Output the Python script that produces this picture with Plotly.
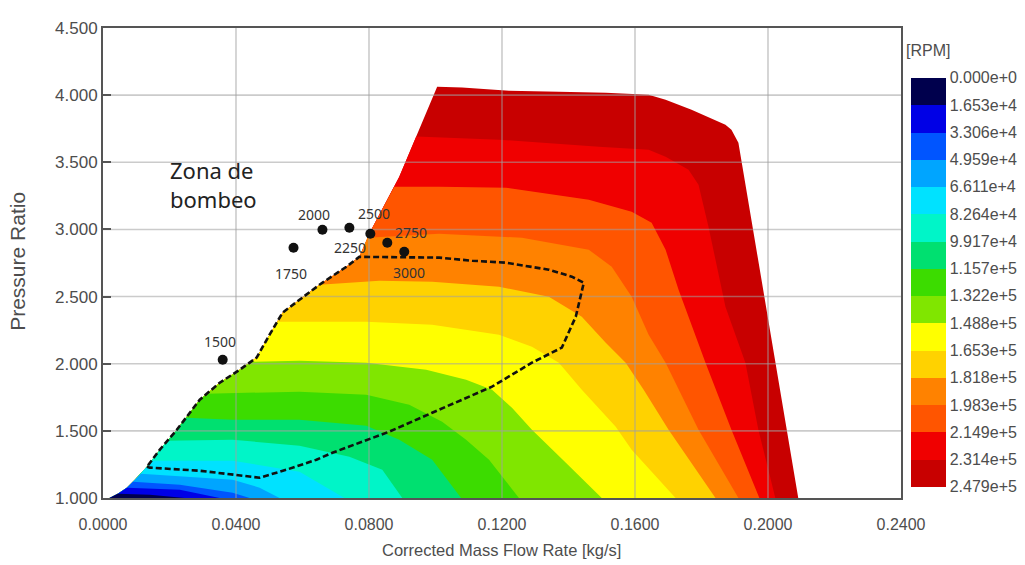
import plotly.graph_objects as go

# ---------------- data ----------------
x_ticks = [0.0, 0.04, 0.08, 0.12, 0.16, 0.20, 0.24]
y_ticks = [1.0, 1.5, 2.0, 2.5, 3.0, 3.5, 4.0, 4.5]

rpm_labels = ["0.000e+0", "1.653e+4", "3.306e+4", "4.959e+4", "6.611e+4", "8.264e+4",
              "9.917e+4", "1.157e+5", "1.322e+5", "1.488e+5", "1.653e+5", "1.818e+5",
              "1.983e+5", "2.149e+5", "2.314e+5", "2.479e+5"]
# band colours, lowest speed band first
band_colors = ["#00004d", "#0000e6", "#0055ff", "#00a5ff", "#00e2ff", "#00f5c8",
               "#00e070", "#3cdc00", "#80e600", "#ffff00", "#ffd200", "#ff8200",
               "#ff5500", "#f00000", "#c80000"]

# surge line (left edge of map), from PR=1 upward
surge_x = [0.0020, 0.0045, 0.0072, 0.0096, 0.0132, 0.0171, 0.0222, 0.0291, 0.0351, 0.0411,
           0.0462, 0.0501, 0.0540, 0.0591, 0.0651, 0.0732, 0.0771, 0.0807, 0.0891, 0.1005]
surge_y = [1.000, 1.032, 1.077, 1.136, 1.233, 1.360, 1.508, 1.732, 1.858, 1.955,
           2.045, 2.216, 2.380, 2.476, 2.588, 2.722, 2.796, 2.998, 3.392, 4.063]

# top (max speed) and choke line
top_x = [0.1080, 0.1221, 0.1371, 0.1512, 0.1641, 0.1692, 0.1770, 0.1872, 0.1890, 0.1911, 0.2091]
top_y = [4.056, 4.033, 4.026, 4.018, 4.003, 3.966, 3.892, 3.780, 3.743, 3.646, 1.000]

# iso-speed contour lines (band boundaries), from surge line to PR=1
iso_2314_x = [0.0942, 0.1191, 0.1491, 0.1641, 0.1692, 0.1761, 0.1791, 0.1821, 0.1872, 0.1932, 0.1971, 0.2022]
iso_2314_y = [3.692, 3.668, 3.616, 3.593, 3.541, 3.444, 3.333, 3.020, 2.425, 2.008, 1.509, 1.000]
iso_2149_x = [0.0876, 0.1011, 0.1212, 0.1461, 0.1590, 0.1650, 0.1692, 0.1731, 0.1812, 0.1890, 0.1974]
iso_2149_y = [3.318, 3.318, 3.311, 3.221, 3.132, 3.050, 2.849, 2.551, 2.008, 1.509, 1.000]
iso_1983_x = [0.0795, 0.1011, 0.1260, 0.1461, 0.1530, 0.1590, 0.1641, 0.1692, 0.1791, 0.1911]
iso_1983_y = [2.938, 2.968, 2.938, 2.849, 2.722, 2.499, 2.216, 2.008, 1.509, 1.000]
iso_1818_x = [0.0651, 0.0831, 0.0990, 0.1191, 0.1341, 0.1440, 0.1512, 0.1572, 0.1626, 0.1701, 0.1842]
iso_1818_y = [2.588, 2.618, 2.610, 2.573, 2.499, 2.350, 2.156, 2.008, 1.807, 1.509, 1.000]
iso_1653_x = [0.0525, 0.0792, 0.0990, 0.1191, 0.1290, 0.1371, 0.1440, 0.1542, 0.1590, 0.1722]
iso_1653_y = [2.313, 2.313, 2.291, 2.216, 2.127, 2.008, 1.807, 1.531, 1.360, 1.000]
iso_1488_x = [0.0444, 0.0591, 0.0792, 0.0972, 0.1092, 0.1170, 0.1230, 0.1290, 0.1392, 0.1500]
iso_1488_y = [2.015, 2.022, 2.008, 1.955, 1.881, 1.806, 1.672, 1.509, 1.263, 1.000]
iso_1322_x = [0.0312, 0.0591, 0.0792, 0.0921, 0.1020, 0.1092, 0.1161, 0.1251]
iso_1322_y = [1.777, 1.792, 1.769, 1.695, 1.568, 1.434, 1.285, 1.000]
iso_1157_x = [0.0249, 0.0390, 0.0591, 0.0792, 0.0891, 0.0990, 0.1077]
iso_1157_y = [1.598, 1.583, 1.583, 1.538, 1.434, 1.285, 1.000]
iso_0992_x = [0.0195, 0.0390, 0.0591, 0.0741, 0.0840, 0.0900]
iso_0992_y = [1.427, 1.434, 1.389, 1.307, 1.211, 1.000]
iso_0826_x = [0.0147, 0.0390, 0.0591, 0.0726]
iso_0826_y = [1.278, 1.278, 1.196, 1.000]
iso_0661_x = [0.0114, 0.0390, 0.0471, 0.0531]
iso_0661_y = [1.181, 1.136, 1.077, 1.000]
iso_0496_x = [0.0090, 0.0231, 0.0390, 0.0441]
iso_0496_y = [1.121, 1.099, 1.040, 1.000]
iso_0331_x = [0.0072, 0.0231, 0.0351]
iso_0331_y = [1.077, 1.062, 1.000]
iso_0165_x = [0.0045, 0.0141, 0.0246]
iso_0165_y = [1.032, 1.025, 1.000]

# operating region (dashed)
op_x = [0.0132, 0.0141, 0.0291, 0.0390, 0.0471, 0.0552, 0.0642, 0.0690, 0.0861, 0.0990, 0.1170,
        0.1290, 0.1380, 0.1422, 0.1446, 0.1410, 0.1341, 0.1212, 0.1110, 0.1011, 0.0771, 0.0732,
        0.0651, 0.0591, 0.0540, 0.0501, 0.0462, 0.0411, 0.0351, 0.0291, 0.0222, 0.0171, 0.0132]
op_y = [1.233, 1.226, 1.203, 1.174, 1.151, 1.211, 1.285, 1.337, 1.494, 1.635, 1.829,
        2.008, 2.120, 2.351, 2.603, 2.648, 2.700, 2.752, 2.767, 2.790, 2.796, 2.722,
        2.588, 2.476, 2.380, 2.216, 2.045, 1.955, 1.858, 1.732, 1.508, 1.360, 1.233]

# engine speed points
pt_rpm = ["1500", "1750", "2000", "2250", "2500", "2750", "3000"]
pt_x = [0.0360, 0.0573, 0.0660, 0.0741, 0.0804, 0.0855, 0.0906]
pt_y = [2.030, 2.864, 2.998, 3.013, 2.968, 2.901, 2.834]

# ---------------- styles ----------------
pt_label_dx = [-3, -3, -8, 1, 4, 24, 5]
pt_label_dy = [18, -26, 15, -20, 20, 10, -21]
REG = "Liberation Sans, Arial, sans-serif"
TXT = "#4d4d4d"

fig = go.Figure()

# full map envelope -> highest band
fig.add_trace(go.Scatter(x=surge_x + top_x, y=surge_y + top_y, mode="none", fill="toself",
                         fillcolor=band_colors[-1], hoverinfo="skip", showlegend=False))

isolines = [(iso_2314_x, iso_2314_y), (iso_2149_x, iso_2149_y), (iso_1983_x, iso_1983_y),
            (iso_1818_x, iso_1818_y), (iso_1653_x, iso_1653_y), (iso_1488_x, iso_1488_y),
            (iso_1322_x, iso_1322_y), (iso_1157_x, iso_1157_y), (iso_0992_x, iso_0992_y),
            (iso_0826_x, iso_0826_y), (iso_0661_x, iso_0661_y), (iso_0496_x, iso_0496_y),
            (iso_0331_x, iso_0331_y), (iso_0165_x, iso_0165_y)]
lower_colors = band_colors[-2::-1]
for (ix, iy), col in zip(isolines, lower_colors):
    sx = [x for x, y in zip(surge_x, surge_y) if y < iy[0]]
    sy = [y for y in surge_y if y < iy[0]]
    fig.add_trace(go.Scatter(x=sx + ix, y=sy + iy, mode="none", fill="toself",
                             fillcolor=col, hoverinfo="skip", showlegend=False))

# grid lines (drawn over the filled map, like the reference)
gx, gy = [], []
for t in x_ticks[1:-1]:
    gx += [t, t, None]
    gy += [y_ticks[0], y_ticks[-1], None]
for t in y_ticks[1:-1]:
    gx += [x_ticks[0], x_ticks[-1], None]
    gy += [t, t, None]
fig.add_trace(go.Scatter(x=gx, y=gy, mode="lines", line=dict(color="rgba(160,160,160,0.55)", width=1.6),
                         hoverinfo="skip", showlegend=False))

# operating region
fig.add_trace(go.Scatter(x=op_x, y=op_y, mode="lines",
                         line=dict(color="#111111", width=2.6, dash="6px,3px"),
                         hoverinfo="skip", showlegend=False))

# speed points
fig.add_trace(go.Scatter(x=pt_x, y=pt_y, mode="markers",
                         marker=dict(color="#111111", size=10, symbol="circle"),
                         hoverinfo="skip", showlegend=False))
for x, y, t, dx, dy in zip(pt_x, pt_y, pt_rpm, pt_label_dx, pt_label_dy):
    fig.add_annotation(x=x, y=y, text=t, showarrow=False, xshift=dx, yshift=dy,
                       xanchor="center", yanchor="middle",
                       font=dict(family="Noto Sans, sans-serif", size=14, color="#333333"))

# colour bar (discrete, 0 at the top)
n = len(band_colors)
cscale = []
for k in range(n):
    c = band_colors[n - 1 - k]
    cscale += [[k / n, c], [(k + 1) / n, c]]
fig.add_trace(go.Scatter(x=[None], y=[None], mode="markers", hoverinfo="skip", showlegend=False,
                         marker=dict(color=[0], cmin=0, cmax=n, colorscale=cscale, showscale=True,
                                     colorbar=dict(thickness=35, thicknessmode="pixels",
                                                   len=409, lenmode="pixels",
                                                   x=(913 - 103) / 800, xanchor="left", xpad=0,
                                                   y=(498.3 - 78) / 470.0, yanchor="top", ypad=0,
                                                   outlinewidth=0, ticks="",
                                                   tickvals=list(range(n + 1)),
                                                   ticktext=rpm_labels[::-1],
                                                   tickfont=dict(family=REG, size=16, color=TXT)))))

fig.add_annotation(text="[RPM]", xref="paper", yref="paper", x=(930 - 103) / 800, y=(498.3 - 51) / 470.0,
                   xanchor="center", yanchor="middle",
                   showarrow=False, font=dict(family=REG, size=16, color=TXT))
fig.add_annotation(text="Zona de<br>bombeo", xref="x", yref="y", x=0.0195, y=3.333, xanchor="left",
                   yanchor="middle", align="left", showarrow=False,
                   font=dict(family="Noto Sans, sans-serif", size=22, color="#222222"))
fig.add_annotation(text="Pressure Ratio", xref="paper", yref="paper", x=(17 - 103) / 800, y=0.503,
                   xanchor="center", yanchor="middle",
                   textangle=-90, showarrow=False, font=dict(family=REG, size=21, color=TXT))
fig.add_annotation(text="Corrected Mass Flow Rate [kg/s]", xref="paper", yref="paper", x=0.499,
                   y=(498.3 - 550) / 470.0, xanchor="center", yanchor="middle",
                   showarrow=False, font=dict(family=REG, size=16.5, color=TXT))

fig.update_layout(
    width=1025, height=565,
    margin=dict(l=103, r=122, t=28, b=67),
    plot_bgcolor="white", paper_bgcolor="white", showlegend=False,
    xaxis=dict(range=[x_ticks[0], x_ticks[-1]], tickvals=x_ticks, tickformat=".4f", showgrid=False,
               zeroline=False, showline=True, linecolor="#555555", linewidth=2, mirror=True,
               ticks="", ticklabelstandoff=11, tickfont=dict(family=REG, size=16, color=TXT)),
    yaxis=dict(range=[y_ticks[0], y_ticks[-1]], tickvals=y_ticks, tickformat=".3f", showgrid=False,
               zeroline=False, showline=True, linecolor="#555555", linewidth=2, mirror=True,
               ticks="inside", ticklen=8, tickcolor="#555555", tickwidth=2,
               tickfont=dict(family=REG, size=17, color=TXT)),
)

fig.write_html("out.html", config={"displayModeBar": False},
               post_script="document.body.style.margin='0';document.body.style.overflow='hidden';")
